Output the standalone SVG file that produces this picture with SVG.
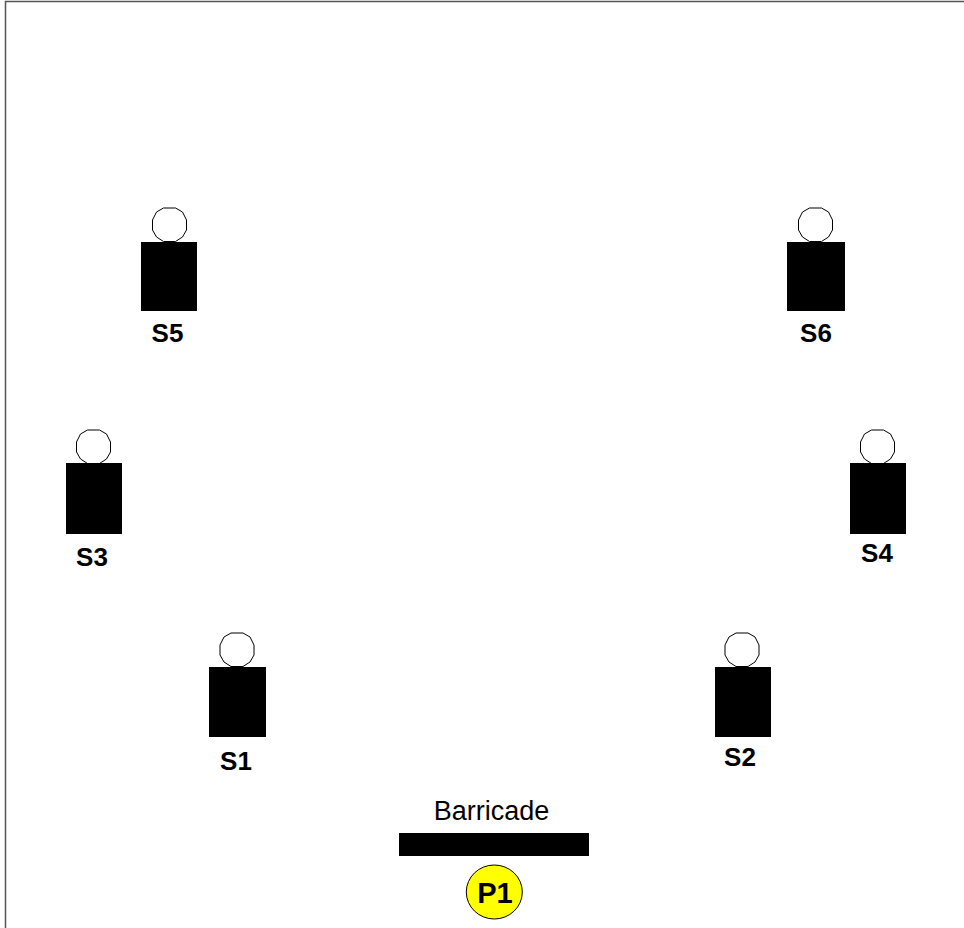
<svg xmlns="http://www.w3.org/2000/svg" width="964" height="928" viewBox="0 0 964 928">
<style>
.body{fill:#000}
.head{fill:#fff;stroke:#000;stroke-width:1}
.lbl{font-family:"Liberation Sans",Arial,sans-serif;font-size:26px;font-weight:bold;text-anchor:middle;fill:#000}
</style>
<defs>
<path id="h" d="M-6-17H6L13-13L17-5V5L13 12L6 16.500H-6L-13 12L-17 5V-5L-13-13Z"/>
</defs>
<rect width="964" height="928" fill="#fff"/>
<path d="M964 1.500H5.500V928" fill="none" stroke="#555" stroke-width="1.500"/>
<g id="S5"><use href="#h" class="head" x="169.500" y="225"/><rect class="body" x="141" y="242" width="56" height="69"/><text class="lbl" x="167.500" y="342">S5</text></g>
<g id="S6"><use href="#h" class="head" x="815.500" y="225"/><rect class="body" x="787" y="242" width="58" height="69"/><text class="lbl" x="816" y="342">S6</text></g>
<g id="S3"><use href="#h" class="head" x="93.500" y="447"/><rect class="body" x="66" y="463" width="56" height="71"/><text class="lbl" x="92" y="566">S3</text></g>
<g id="S4"><use href="#h" class="head" x="877.500" y="447"/><rect class="body" x="850" y="463" width="56" height="71"/><text class="lbl" x="877" y="562">S4</text></g>
<g id="S1"><use href="#h" class="head" x="237" y="650"/><rect class="body" x="209" y="667" width="57" height="70"/><text class="lbl" x="236" y="770">S1</text></g>
<g id="S2"><use href="#h" class="head" x="742" y="650"/><rect class="body" x="715" y="667" width="56" height="70"/><text class="lbl" x="740" y="766">S2</text></g>
<g id="Barricade"><text x="491.500" y="820" font-family="'Liberation Sans',Arial,sans-serif" font-size="27" text-anchor="middle" fill="#000">Barricade</text><rect class="body" x="399" y="833" width="190" height="23"/></g>
<g id="P1"><ellipse cx="494.300" cy="892" rx="28" ry="27" fill="#ff0" stroke="#000" stroke-width="1"/><text class="lbl" x="495" y="903" style="font-size:29px">P1</text></g>
<g id="connectors"></g>
</svg>
